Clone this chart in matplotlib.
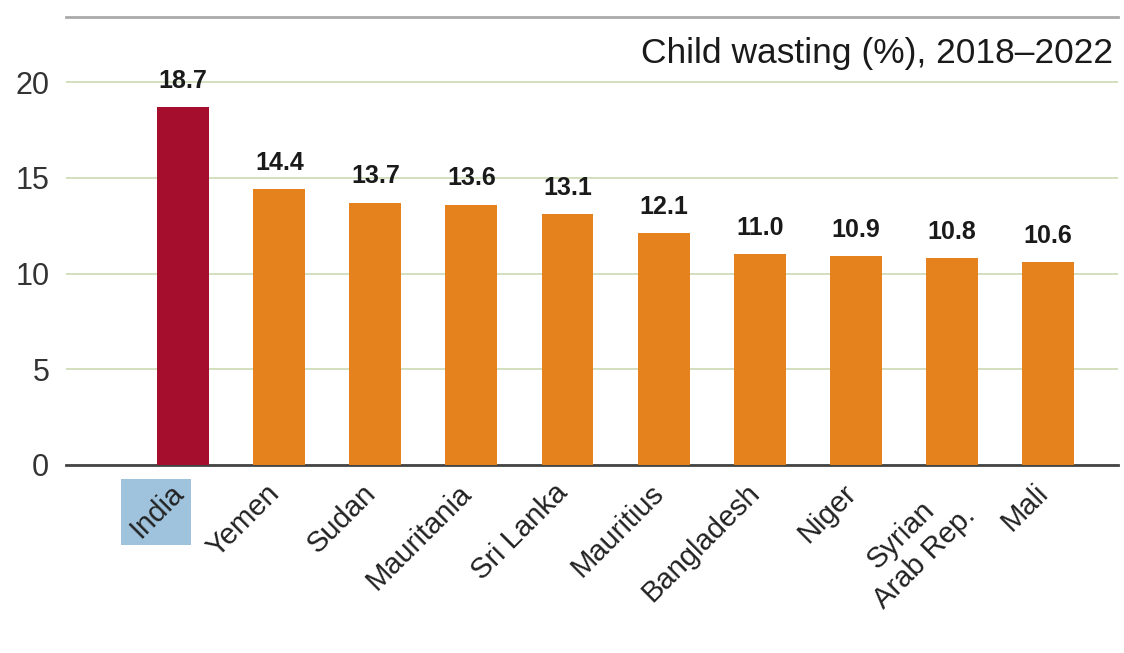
import matplotlib
matplotlib.use('agg')
from matplotlib import pyplot as plt
from matplotlib.patches import Rectangle
from matplotlib.transforms import ScaledTranslation

countries = ["India", "Yemen", "Sudan", "Mauritania", "Sri Lanka", "Mauritius",
             "Bangladesh", "Niger", "Syrian\nArab Rep.", "Mali"]
values = [18.7, 14.4, 13.7, 13.6, 13.1, 12.1, 11.0, 10.9, 10.8, 10.6]
yticks = [0, 5, 10, 15, 20]

RED = '#a50e2d'
ORANGE = '#e5821e'
GRID = '#cfdcb8'

plt.rcParams['font.family'] = ['Liberation Sans', 'DejaVu Sans']

fig = plt.figure(figsize=(11.24, 6.53), dpi=100)
ax = fig.add_axes([0.0587, 0.288, 0.936, 0.686])

colors = [RED] + [ORANGE] * (len(values) - 1)
x = list(range(len(values)))
ax.bar(x, values, width=0.54, color=colors, zorder=3)

for xi, v in zip(x, values):
    ax.text(xi, v + 0.75, f"{v:.1f}", ha='center', va='bottom',
            fontsize=18, fontweight='bold', color='#1a1a1a')

ax.set_xlim(-1.22, 9.73)
ax.set_ylim(0, 23.4)
ax.set_yticks(yticks)
ax.set_yticklabels([str(t) for t in yticks], fontsize=22, color='#333333')
ax.tick_params(axis='y', length=0, pad=12)
ax.tick_params(axis='x', length=0, pad=10)
for s in ['left', 'right']:
    ax.spines[s].set_visible(False)
ax.spines['bottom'].set_color('#444444')
ax.spines['bottom'].set_linewidth(2)
ax.spines['top'].set_color('#aaaaaa')
ax.spines['top'].set_linewidth(2)
ax.yaxis.grid(True, color=GRID, linewidth=1.3, zorder=0)

ax.set_xticks(x)
ax.set_xticklabels(countries, rotation=45, ha='right', rotation_mode='anchor',
                   fontsize=21, color='#222222', multialignment='center')
# nudge the country names a little to the left
shift = ScaledTranslation(-10 / 72, 0, fig.dpi_scale_trans)
for lab in ax.get_xticklabels():
    lab.set_transform(lab.get_transform() + shift)

ax.text(0.995, 0.955, "Child wasting (%), 2018\u20132022", transform=ax.transAxes,
        ha='right', va='top', fontsize=25.5, color='#1a1a1a')

# blue highlight box behind the India label
fig.canvas.draw()
bb = ax.get_xticklabels()[0].get_window_extent()
fig.patches.append(Rectangle((bb.x0 - 4, bb.y0 - 2), bb.width + 6, bb.height + 2,
                             transform=None, facecolor='#9fc3dc',
                             edgecolor='none', zorder=-1))

fig.savefig('out.png', dpi=100)
